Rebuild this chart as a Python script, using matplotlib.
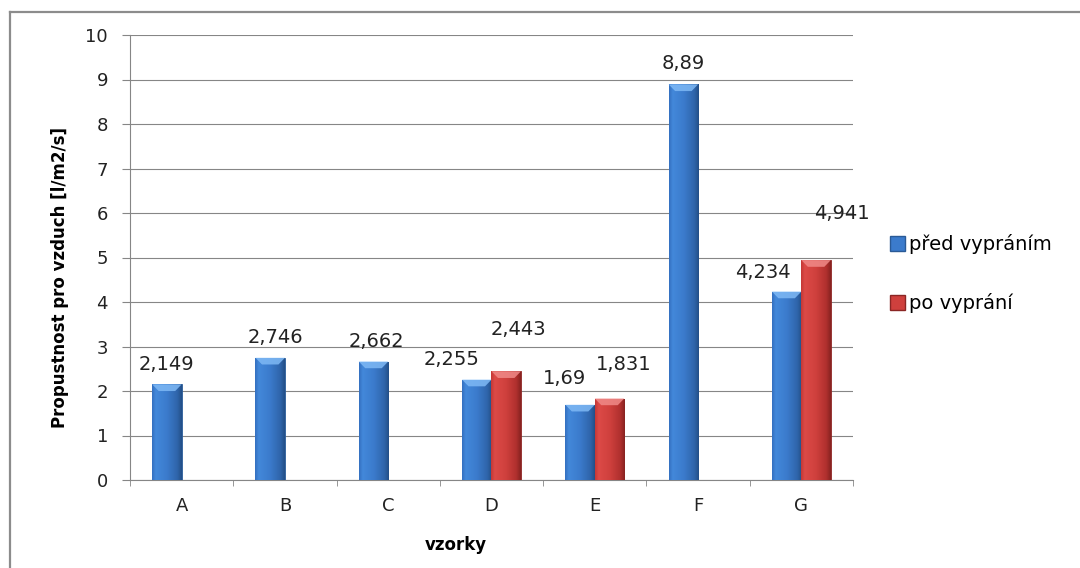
import numpy as np
import matplotlib.pyplot as plt
from matplotlib.colors import LinearSegmentedColormap
from matplotlib.patches import Polygon, Patch
from matplotlib.lines import Line2D

# data
samples = ['A', 'B', 'C', 'D', 'E', 'F', 'G']
before_wash = [2.149, 2.746, 2.662, 2.255, 1.69, 8.89, 4.234]
after_wash = [np.nan, np.nan, np.nan, 2.443, 1.831, np.nan, 4.941]
before_labels = ['2,149', '2,746', '2,662', '2,255', '1,69', '8,89', '4,234']
after_labels = ['', '', '', '2,443', '1,831', '', '4,941']

# label offsets in pixels (dx, dy) from top of each bar
before_off = [(0, 20), (5, 20), (3, 20), (-25, 20), (-16, 26), (0, 21), (-24, 19)]
after_off = [None, None, None, (12, 42), (14, 34), None, (26, 47)]

blue_cmap = LinearSegmentedColormap.from_list(
    'b', [(0, '#3470c0'), (0.12, '#4388da'), (0.5, '#3b7bcc'), (0.85, '#2f65ab'), (1, '#234f88')])
red_cmap = LinearSegmentedColormap.from_list(
    'r', [(0, '#c43836'), (0.12, '#dc4a47'), (0.5, '#cf403d'), (0.85, '#b0302e'), (1, '#882321')])

fig = plt.figure(figsize=(10.8, 5.68), dpi=100)
ax = fig.add_axes([130 / 1080, 1 - 480 / 568, 723 / 1080, 445 / 568])

x = np.arange(len(samples))
w = 0.285
grad = np.linspace(0, 1, 64).reshape(1, -1)


def fancy_bar(xc, h, cmap, cap_color, edge):
    b = ax.bar(xc, h, w, color=cmap(0.5), edgecolor=edge, linewidth=0.6, zorder=3)[0]
    im = ax.imshow(grad, cmap=cmap, extent=(xc - w / 2, xc + w / 2, 0, h),
                   aspect='auto', zorder=3.5)
    im.set_clip_path(b)
    d = 0.15
    inset = w * 0.22
    cap = Polygon([(xc - w / 2, h), (xc + w / 2, h), (xc + w / 2 - inset, h - d),
                   (xc - w / 2 + inset, h - d)], closed=True,
                  facecolor=cap_color, edgecolor='none', alpha=0.85, zorder=4)
    ax.add_patch(cap)
    return b


for i in range(len(samples)):
    xb = x[i] - w / 2
    fancy_bar(xb, before_wash[i], blue_cmap, '#7fb9f5', '#2a5a96')
    dx, dy = before_off[i]
    ax.annotate(before_labels[i], (xb, before_wash[i]), xytext=(dx, dy),
                textcoords='offset pixels', ha='center', va='center',
                fontsize=14, color='#222222', zorder=6)
    if not np.isnan(after_wash[i]):
        xr = x[i] + w / 2
        fancy_bar(xr, after_wash[i], red_cmap, '#f08a88', '#8a2624')
        dx, dy = after_off[i]
        ax.annotate(after_labels[i], (xr, after_wash[i]), xytext=(dx, dy),
                    textcoords='offset pixels', ha='center', va='center',
                    fontsize=14, color='#222222', zorder=6)

ax.set_xlim(-0.5, len(samples) - 0.5)
ax.set_ylim(0, 10)
ax.set_yticks(range(0, 11))
ax.set_xticks(x)
ax.set_xticklabels(samples)
ax.set_xticks(np.arange(-0.5, len(samples)), minor=True)
ax.tick_params(axis='x', which='major', length=0, pad=12, labelsize=13, labelcolor='#222222')
ax.tick_params(axis='x', which='minor', length=4.5, color='#868686', direction='out')
ax.tick_params(axis='y', length=5.8, color='#868686', pad=10, labelsize=13, labelcolor='#222222')

ax.grid(axis='y', color='#868686', linewidth=0.8, zorder=0)
ax.set_axisbelow(True)
for s in ['top', 'right']:
    ax.spines[s].set_visible(False)
for s in ['left', 'bottom']:
    ax.spines[s].set_color('#868686')
    ax.spines[s].set_linewidth(0.8)

ax.set_xlabel('vzorky', fontsize=12, fontweight='bold')
ax.xaxis.set_label_coords(0.45, -0.125)
ax.set_ylabel('Propustnost pro vzduch [l/m2/s]', fontsize=12, fontweight='bold')
ax.yaxis.set_label_coords(-0.085, 0.455)

handles = [Patch(facecolor='#3b7bcc', edgecolor='#2a5a96', label='před vypráním'),
           Patch(facecolor='#cf403d', edgecolor='#8a2624', label='po vyprání')]
fig.legend(handles=handles, loc='upper left', bbox_to_anchor=(872 / 1080, 1 - 217 / 568),
           frameon=False, fontsize=14, handlelength=0.8, handleheight=0.8,
           handletextpad=0.2, labelspacing=2.0)

# chart area border (top and left)
fig.add_artist(Line2D([10 / 1080, 1], [1 - 11.5 / 568] * 2, color='#8c8c8c', linewidth=1.6))
fig.add_artist(Line2D([10 / 1080] * 2, [0, 1 - 11.5 / 568], color='#8c8c8c', linewidth=1.6))

fig.savefig('out.png', dpi=100)
